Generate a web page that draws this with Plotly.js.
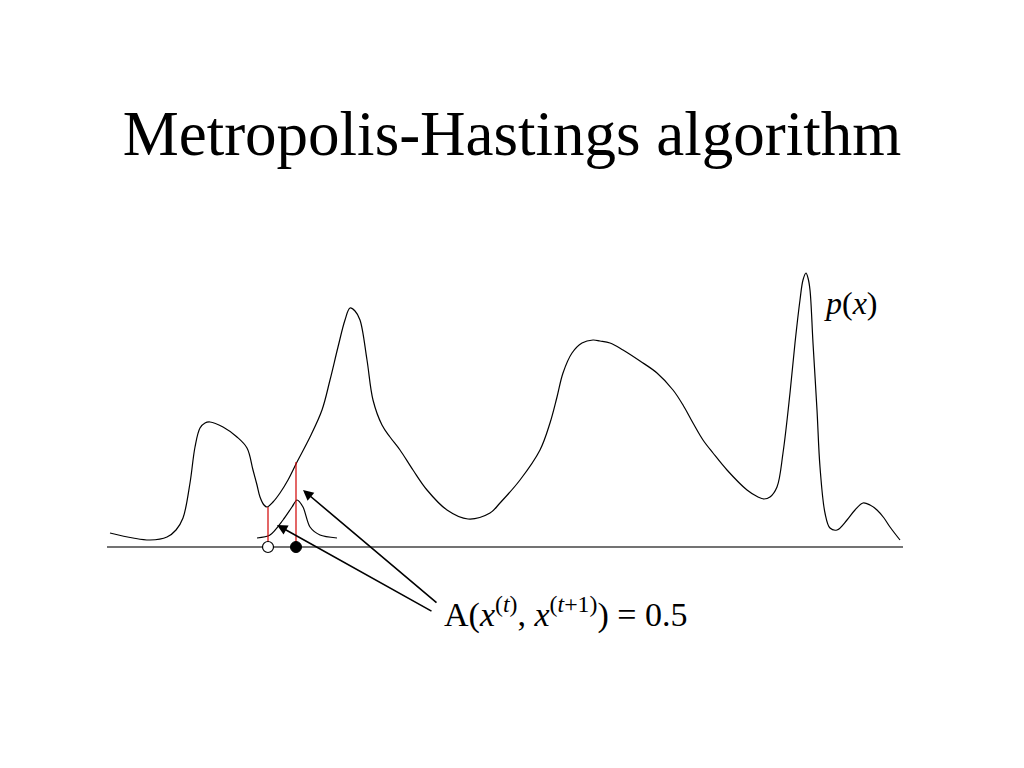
<!DOCTYPE html>
<html>
<head>
<meta charset="utf-8">
<script src="https://cdn.plot.ly/plotly-3.0.1.min.js"></script>
<style>html,body{margin:0;padding:0;background:#fff;}#chart{width:1024px;height:768px;}</style>
</head>
<body>
<div id="chart"></div>
<script>
// Target density p(x) (page pixel coordinates)
var pX = [110,133,150,167,176,183,190,195,200,205,210,223,237,247,253,257,260,264,267,273,280,288,297,310,322,330,338,345,350,355,360,367,373,382,390,400,413,427,447,468,490,500,520,540,550,557,563,572,582,593,600,610,623,640,657,673,683,693,703,713,727,747,758,764,770,777,783,790,795,800,803,806,808,810,813,817,820,825,830,837,847,855,863,870,877,884,890,900];
var pY = [533,538,540,537,530,518,483,447,428,423,422,427,437,448,470,485,497,505,507,502,493,480,462,437,410,380,347,320,308,311,320,360,400,425,437,450,470,490,510,519,513,503,480,450,423,397,373,353,343,340,341,343,350,361,373,390,405,423,440,453,470,490,497,499,497,487,453,393,343,300,280,273,278,290,343,410,467,513,528,530,520,510,503,505,510,518,527,540];

// Proposal bump around the current state
var qX = [257,270,283,292,297,303,310,320,337];
var qY = [538,535,520,507,500,507,527,535,538];

// Baseline (x axis of the sketch)
var baseX = [107,903];
var baseY = [547,547];

// Current state x(t) and proposed state x(t+1)
var curX = [268];
var propX = [296];
var axisY = [547];
var curTopY = [507];
var propTopY = [462];

// Arrows: tips and tails
var arrowTipX = [303,277];
var arrowTipY = [490,525];
var arrowTailX = [438,433];
var arrowTailY = [604,612];

var titleText = 'Metropolis-Hastings algorithm';
var pLabel = '<i>p</i>(<i>x</i>)';
var aLabel = 'A(<i>x</i><sup>(<i>t</i>)</sup>, <i>x</i><sup>(<i>t</i>+1)</sup>) = 0.5';

var serif = 'Liberation Serif, Times New Roman, serif';

var traces = [
  {x: baseX, y: baseY, mode: 'lines', line: {color: '#444', width: 1.4}, hoverinfo: 'skip'},
  {x: pX, y: pY, mode: 'lines', line: {color: '#000', width: 1.2, shape: 'spline', smoothing: 1}, hoverinfo: 'skip'},
  {x: qX, y: qY, mode: 'lines', line: {color: '#000', width: 1.2, shape: 'spline', smoothing: 0.8}, hoverinfo: 'skip'},
  {x: [curX[0], curX[0], null, propX[0], propX[0]], y: [curTopY[0], axisY[0], null, propTopY[0], axisY[0]],
   mode: 'lines', line: {color: '#d00000', width: 1.2}, hoverinfo: 'skip'},
  {x: curX, y: axisY, mode: 'markers', marker: {symbol: 'circle', size: 11, color: '#fff', line: {color: '#000', width: 1.2}}, hoverinfo: 'skip'},
  {x: propX, y: axisY, mode: 'markers', marker: {symbol: 'circle', size: 11, color: '#000', line: {color: '#000', width: 1}}, hoverinfo: 'skip'}
];

var annotations = [];
for (var i = 0; i < arrowTipX.length; i++) {
  annotations.push({
    x: arrowTipX[i], y: arrowTipY[i], ax: arrowTailX[i], ay: arrowTailY[i],
    xref: 'x', yref: 'y', axref: 'x', ayref: 'y',
    text: '', showarrow: true, arrowhead: 2, arrowsize: 1.3, arrowwidth: 1.6, arrowcolor: '#000'
  });
}
annotations.push({x: 822, y: 303, xref: 'x', yref: 'y', text: pLabel, showarrow: false,
  xanchor: 'left', yanchor: 'middle', font: {family: serif, size: 32, color: '#000'}});
annotations.push({x: 442, y: 612, xref: 'x', yref: 'y', text: aLabel, showarrow: false,
  xanchor: 'left', yanchor: 'middle', font: {family: serif, size: 34, color: '#000'}});

var layout = {
  width: 1024, height: 768,
  margin: {l: 0, r: 0, t: 0, b: 0},
  paper_bgcolor: '#fff', plot_bgcolor: '#fff',
  showlegend: false,
  title: {text: titleText, x: 0.5, xanchor: 'center', xref: 'paper', y: 1 - 133/768, yanchor: 'middle', yref: 'container',
          font: {family: serif, size: 63, color: '#000'}},
  xaxis: {range: [0, 1024], visible: false, fixedrange: true},
  yaxis: {range: [768, 0], visible: false, fixedrange: true},
  annotations: annotations
};

Plotly.newPlot('chart', traces, layout, {displayModeBar: false, staticPlot: true});
</script>
</body>
</html>
